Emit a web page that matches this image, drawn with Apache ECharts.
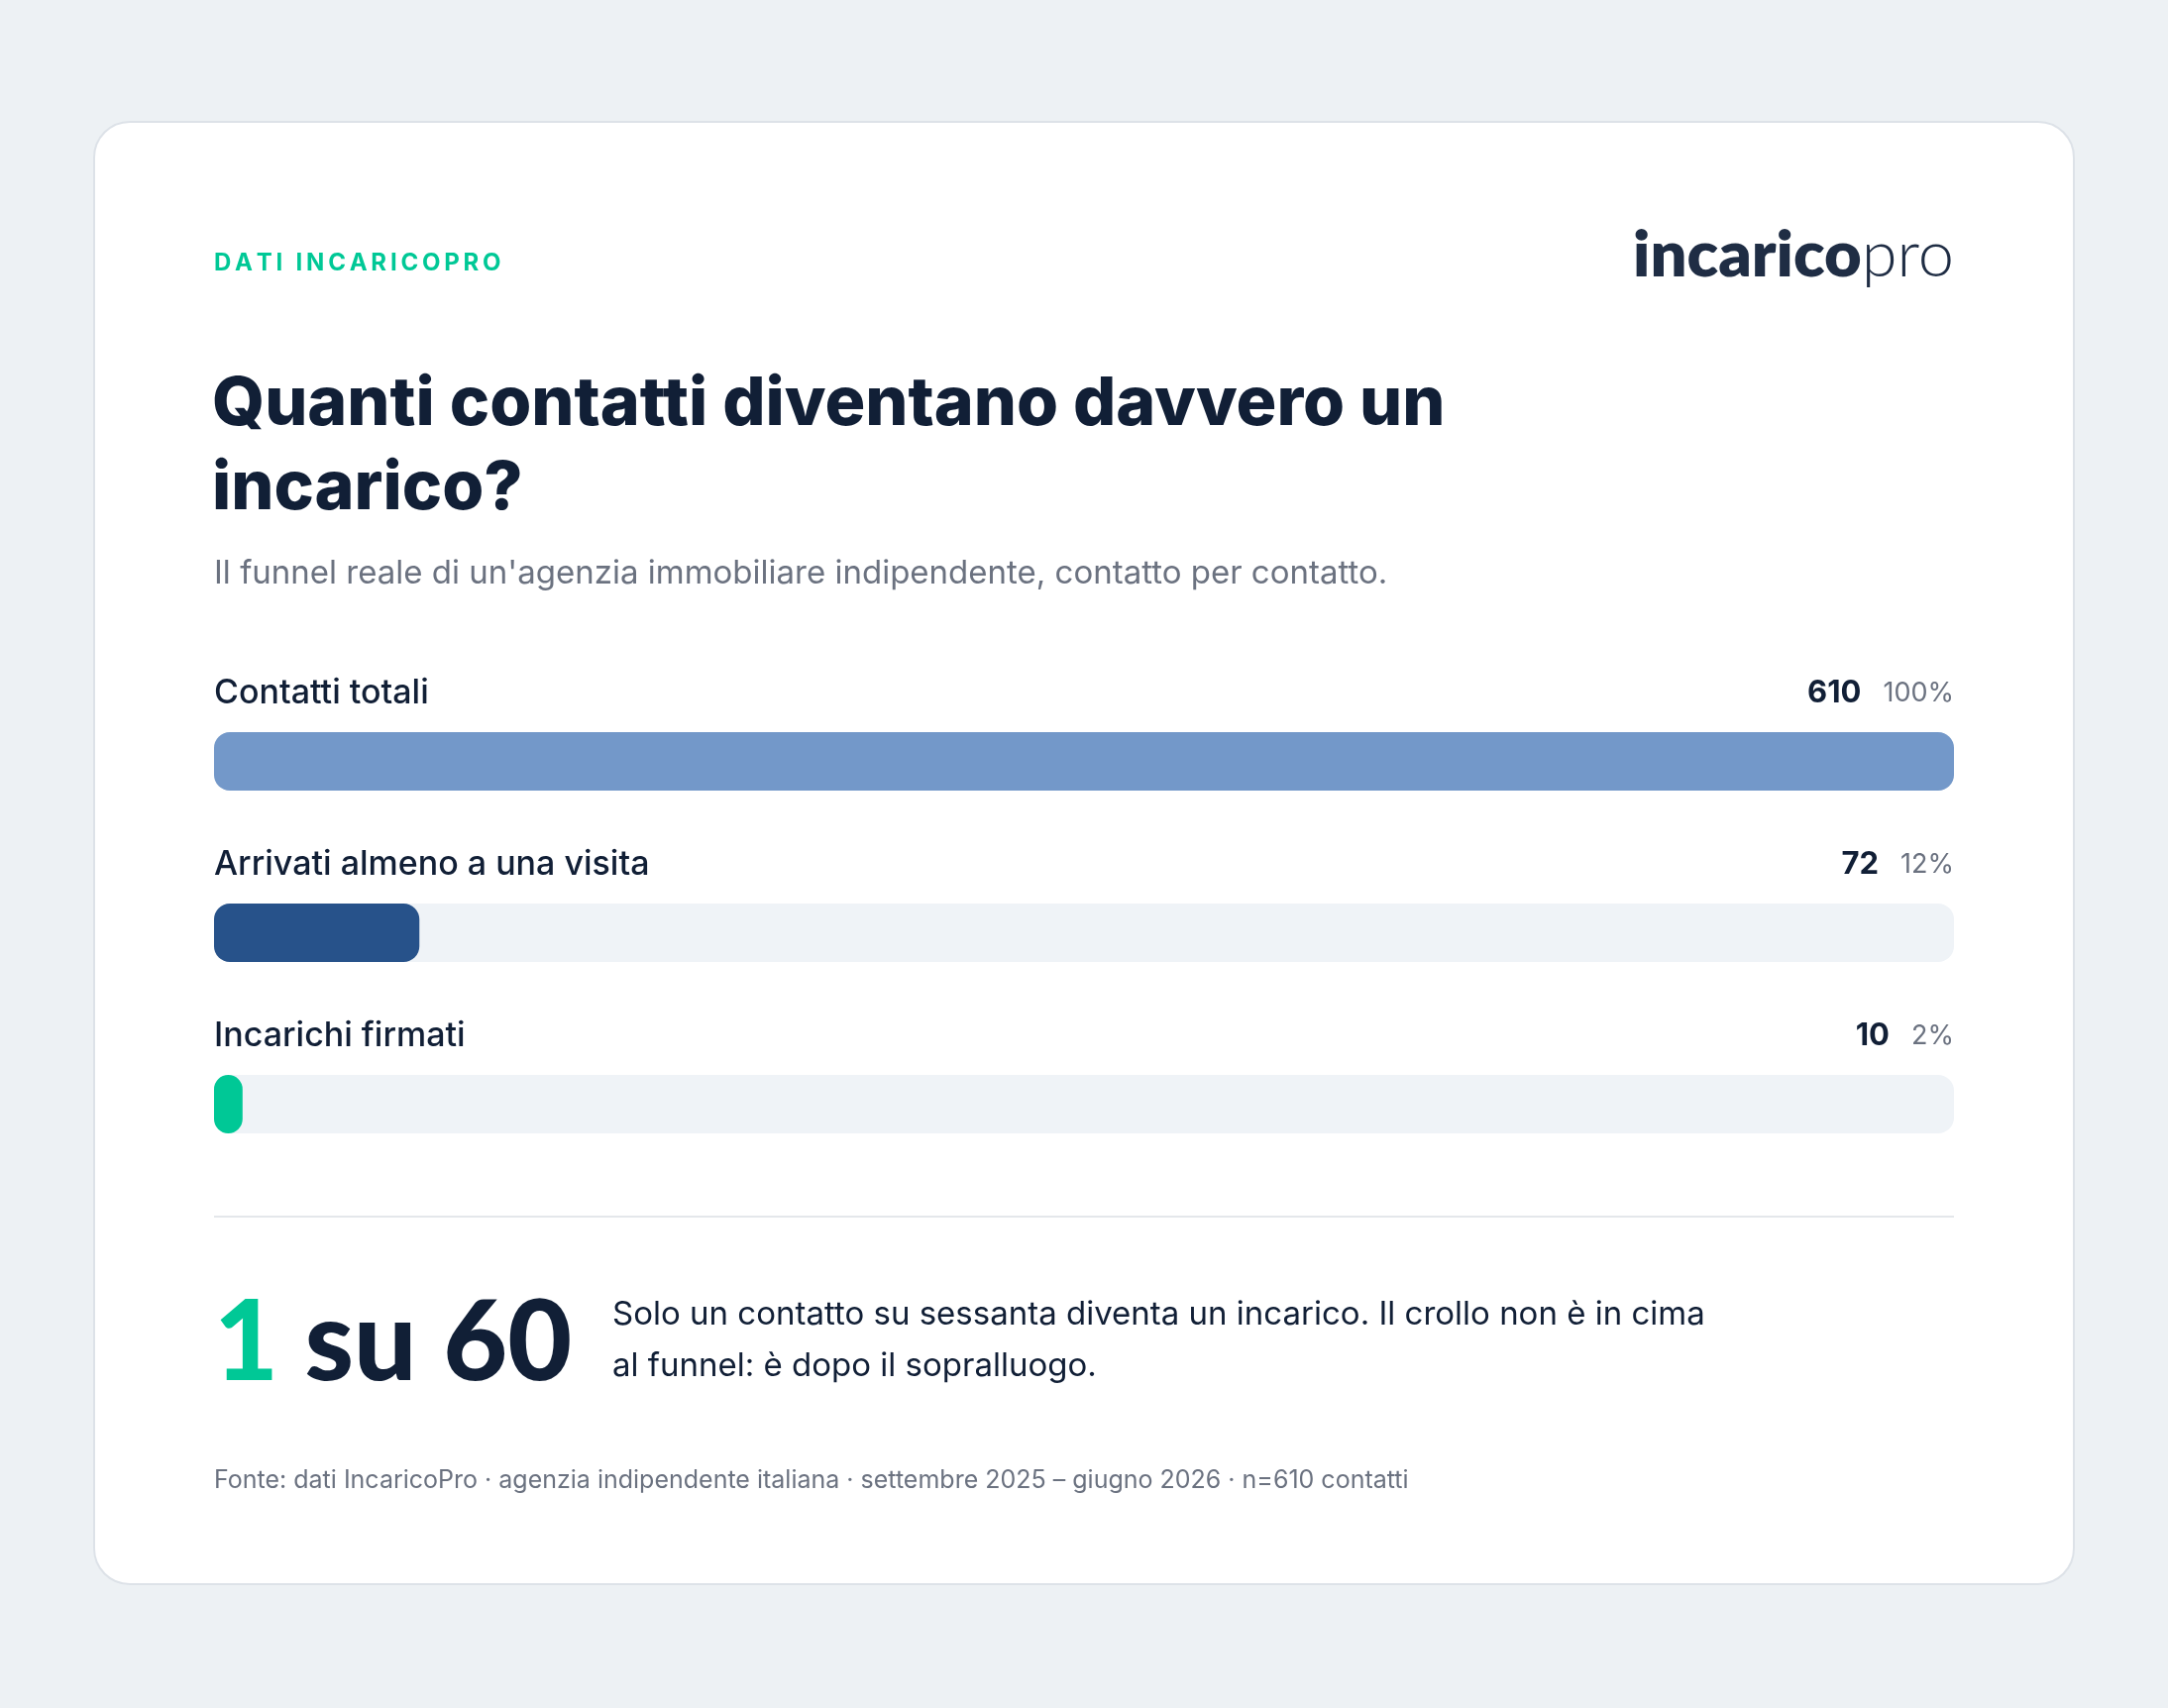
<!DOCTYPE html>
<html>
<head>
<meta charset="utf-8">
<script src="https://cdn.jsdelivr.net/npm/echarts@6/dist/echarts.min.js"></script>
<style>
html,body{margin:0;padding:0;background:#edf1f4;}
#c{width:2188px;height:1724px;}
</style>
</head>
<body>
<div id="c"></div>
<script>
const categories = ['Contatti totali', 'Arrivati almeno a una visita', 'Incarichi firmati'];
const values = [610, 72, 10];
const pctLabels = ['100%', '12%', '2%'];
const barColors = ['#7398c9', '#27528a', '#00c896'];

const eyebrow = 'DATI INCARICOPRO';
const titleText = 'Quanti contatti diventano davvero un\nincarico?';
const subtitleText = "Il funnel reale di un'agenzia immobiliare indipendente, contatto per contatto.";
const ratioHighlight = '1';
const ratioRest = 'su 60';
const ratioNote = 'Solo un contatto su sessanta diventa un incarico. Il crollo non è in cima\nal funnel: è dopo il sopralluogo.';
const sourceText = 'Fonte: dati IncaricoPro · agenzia indipendente italiana · settembre 2025 – giugno 2026 · n=610 contatti';

const FONT = 'Inter, Lato, "Noto Sans", sans-serif';
const LATO = 'Lato, Inter, sans-serif';
const DARK = '#111f36';
const GREY = '#6b7280';
const GREEN = '#00c896';

const chart = echarts.init(document.getElementById('c'), null, {renderer: 'canvas'});
const maxVal = values[0];
const trackValues = values.map(() => maxVal);

function spaced(s) { return s.split('').join('\u2009'); }

chart.setOption({
  backgroundColor: '#edf1f4',
  animation: false,
  grid: {left: 216, right: 216, top: 682, height: 519},
  xAxis: {type: 'value', min: 0, max: maxVal, show: false},
  yAxis: {type: 'category', data: categories, inverse: true, show: false},
  graphic: [
    {type: 'rect', z: -10, shape: {x: 95, y: 123, width: 1998, height: 1476, r: 36},
     style: {fill: '#ffffff', stroke: '#dde2e8', lineWidth: 2}},
    {type: 'text', x: 216, y: 266, style: {text: spaced(eyebrow), fill: GREEN, font: '700 24px ' + FONT, textAlign: 'left', textVerticalAlign: 'middle'}},
    {type: 'text', x: 1972, y: 258, style: {
      text: '{b|incarico}{l|pro}', textAlign: 'right', textVerticalAlign: 'middle',
      rich: {b: {fontFamily: LATO, fontWeight: 800, fontSize: 65, fill: '#1f2d44'},
             l: {fontFamily: LATO, fontWeight: 300, fontSize: 65, fill: '#1f2d44'}}}},
    {type: 'text', x: 214, y: 451, style: {text: titleText, fill: DARK, font: '800 68px ' + FONT, lineHeight: 85, textAlign: 'left', textVerticalAlign: 'middle'}},
    {type: 'text', x: 216, y: 579, style: {text: subtitleText, fill: GREY, font: '400 33px ' + FONT, textAlign: 'left', textVerticalAlign: 'middle'}},
    {type: 'rect', shape: {x: 216, y: 1227, width: 1756, height: 2}, style: {fill: '#e4e7eb'}},
    {type: 'text', x: 216, y: 1357, style: {
      text: '{g|' + ratioHighlight + '}{d| ' + ratioRest + '}', textAlign: 'left', textVerticalAlign: 'middle',
      rich: {g: {fontFamily: LATO, fontWeight: 900, fontSize: 112, fill: GREEN},
             d: {fontFamily: LATO, fontWeight: 900, fontSize: 112, fill: DARK}}}},
    {type: 'text', x: 618, y: 1353, style: {text: ratioNote, fill: DARK, font: '400 33px ' + FONT, lineHeight: 52, textAlign: 'left', textVerticalAlign: 'middle'}},
    {type: 'text', x: 216, y: 1494, style: {text: sourceText, fill: GREY, font: '400 25px ' + FONT, textAlign: 'left', textVerticalAlign: 'middle'}}
  ],
  series: [
    {
      type: 'bar', name: 'track', data: trackValues, barWidth: 59, silent: true,
      itemStyle: {color: '#eff3f7', borderRadius: 16},
      label: {
        show: true, position: ['100%', -39], align: 'right', verticalAlign: 'middle',
        formatter: p => '{v|' + values[p.dataIndex] + '}{s| }{p|' + pctLabels[p.dataIndex] + '}',
        rich: {
          v: {fontFamily: FONT, fontWeight: 700, fontSize: 31, color: DARK},
          s: {fontSize: 22, width: 22},
          p: {fontFamily: FONT, fontWeight: 400, fontSize: 27, color: GREY}
        }
      }
    },
    {
      type: 'bar', name: 'funnel', barWidth: 59, barGap: '-100%',
      data: values.map((v, i) => ({value: v, itemStyle: {color: barColors[i]}})),
      itemStyle: {borderRadius: 16},
      label: {
        show: true, position: [0, -39], align: 'left', verticalAlign: 'middle',
        formatter: p => categories[p.dataIndex],
        fontFamily: FONT, fontWeight: 500, fontSize: 34, color: DARK
      }
    }
  ]
});
</script>
</body>
</html>
